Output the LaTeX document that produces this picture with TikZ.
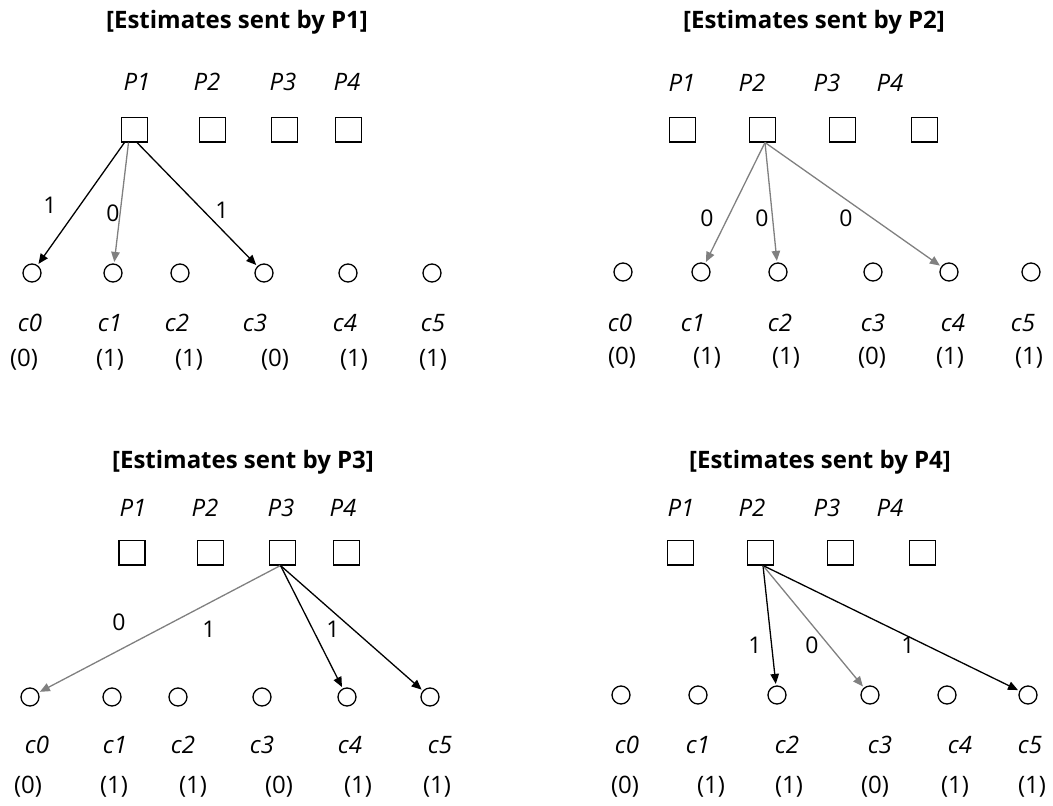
\documentclass[tikz,border=0pt]{standalone}
\usepackage{fontspec}
\setmainfont{Open Sans}
\usetikzlibrary{arrows.meta}

\tikzset{
  heading/.style={font=\bfseries\fontsize{24}{28}\selectfont, inner sep=0},
  plabel/.style={font=\itshape\fontsize{24}{28}\selectfont, inner sep=0},
  clabel/.style={font=\itshape\fontsize{24}{28}\selectfont, inner sep=0},
  vlabel/.style={font=\fontsize{24}{28}\selectfont, inner sep=0},
  elabel/.style={font=\fontsize{23}{28}\selectfont, inner sep=0},
  proc/.style={draw, line width=1.5pt, minimum width=26pt, minimum height=24.5pt, inner sep=0},
  chan/.style={draw, circle, line width=1.3pt, minimum size=18pt, inner sep=0},
  sendone/.style={-{Triangle[length=10pt,width=8.5pt]}, line width=1.3pt, black, shorten >=1.5pt},
  sendzero/.style={-{Triangle[length=10pt,width=8.5pt]}, line width=1.3pt, gray, shorten >=1.5pt},
}

\begin{document}
\begin{tikzpicture}[x=1pt, y=-1pt]
\useasboundingbox (0,0) rectangle (1053,806);

% ---------- estimates sent by P1 ----------
\node[heading] (a-t) at (237,22) {[Estimates sent by P1]};
\foreach \x [count=\i] in {137,207,283,347} \node[plabel] (a-pl\i) at (\x,82) {P\i};
\foreach \x [count=\i] in {134.5,212.5,284.5,348.5} \node[proc] (a-p\i) at (\x,129.5) {};
\foreach \x [count=\i from 0] in {32,113,180,264,348,432} \node[chan] (a-c\i) at (\x,273) {};
\foreach \x [count=\i from 0] in {30,110,177,255,345,433} \node[clabel] (a-cl\i) at (\x,323) {c\i};
\foreach \x/\v [count=\i from 0] in {24/0,110/1,189/1,275/0,354/1,433/1} \node[vlabel] (a-v\i) at (\x,360) {(\v)};
\draw[sendone]  ([xshift=-10pt]a-p1.south) -- (a-c0);
\draw[sendzero] ([xshift=-6pt]a-p1.south) -- (a-c1);
\draw[sendone]  ([xshift=2.5pt]a-p1.south) -- (a-c3);
\node[elabel] (a-e1) at (50,205) {1};
\node[elabel] (a-e2) at (113,213) {0};
\node[elabel] (a-e3) at (222,210) {1};

% ---------- estimates sent by P2 ----------
\node[heading] (b-t) at (814,22) {[Estimates sent by P2]};
\foreach \x [count=\i] in {682,752,827,890} \node[plabel] (b-pl\i) at (\x,83) {P\i};
\foreach \x [count=\i] in {682.5,762.5,842.5,924.5} \node[proc] (b-p\i) at (\x,129.5) {};
\foreach \x [count=\i from 0] in {623,701,778,873,949,1031} \node[chan] (b-c\i) at (\x,272) {};
\foreach \x [count=\i from 0] in {620,693,780,873,953,1023} \node[clabel] (b-cl\i) at (\x,323) {c\i};
\foreach \x/\v [count=\i from 0] in {622/0,707/1,786/1,872/0,950/1,1029/1} \node[vlabel] (b-v\i) at (\x,358) {(\v)};
\draw[sendzero] ([xshift=2.5pt]b-p2.south) -- (b-c1);
\draw[sendzero] ([xshift=2.5pt]b-p2.south) -- (b-c2);
\draw[sendzero] ([xshift=2.5pt]b-p2.south) -- (b-c4);
\node[elabel] (b-e1) at (707,218) {0};
\node[elabel] (b-e2) at (762,218) {0};
\node[elabel] (b-e3) at (846,218) {0};

% ---------- estimates sent by P3 ----------
\node[heading] (c-t) at (243,462) {[Estimates sent by P3]};
\foreach \x [count=\i] in {133,205,281,343} \node[plabel] (c-pl\i) at (\x,508) {P\i};
\foreach \x [count=\i] in {132,210.5,282.5,346.5} \node[proc] (c-p\i) at (\x,552.5) {};
\foreach \x [count=\i from 0] in {30,112,178,262,347,430} \node[chan] (c-c\i) at (\x,697) {};
\foreach \x [count=\i from 0] in {37,115,183,262,350,440} \node[clabel] (c-cl\i) at (\x,745) {c\i};
\foreach \x/\v [count=\i from 0] in {28/0,114/1,193/1,279/0,358/1,437/1} \node[vlabel] (c-v\i) at (\x,787) {(\v)};
\draw[sendzero] ([xshift=-2pt]c-p3.south) -- (c-c0);
\draw[sendone]  ([xshift=-2pt]c-p3.south) -- (c-c4);
\draw[sendone]  ([xshift=-2pt]c-p3.south) -- (c-c5);
\node[elabel] (c-e1) at (119,622) {0};
\node[elabel] (c-e2) at (209,629) {1};
\node[elabel] (c-e3) at (333,629) {1};

% ---------- estimates sent by P4 ----------
\node[heading] (d-t) at (820,462) {[Estimates sent by P4]};
\foreach \x [count=\i] in {681,752,827,890} \node[plabel] (d-pl\i) at (\x,508) {P\i};
\foreach \x [count=\i] in {680.5,760.5,840.5,922.5} \node[proc] (d-p\i) at (\x,552.5) {};
\foreach \x [count=\i from 0] in {621,698,777,870,947,1028} \node[chan] (d-c\i) at (\x,695) {};
\foreach \x [count=\i from 0] in {627,698,787,880,960,1030} \node[clabel] (d-cl\i) at (\x,745) {c\i};
\foreach \x/\v [count=\i from 0] in {625/0,711/1,789/1,875/0,955/1,1032/1} \node[vlabel] (d-v\i) at (\x,787) {(\v)};
\draw[sendone]  ([xshift=2.5pt]d-p2.south) -- (d-c2);
\draw[sendzero] ([xshift=2.5pt]d-p2.south) -- (d-c3);
\draw[sendone]  ([xshift=2.5pt]d-p2.south) -- (d-c5);
\node[elabel] (d-e1) at (755,645) {1};
\node[elabel] (d-e2) at (812,645) {0};
\node[elabel] (d-e3) at (908,645) {1};
\end{tikzpicture}
\end{document}
